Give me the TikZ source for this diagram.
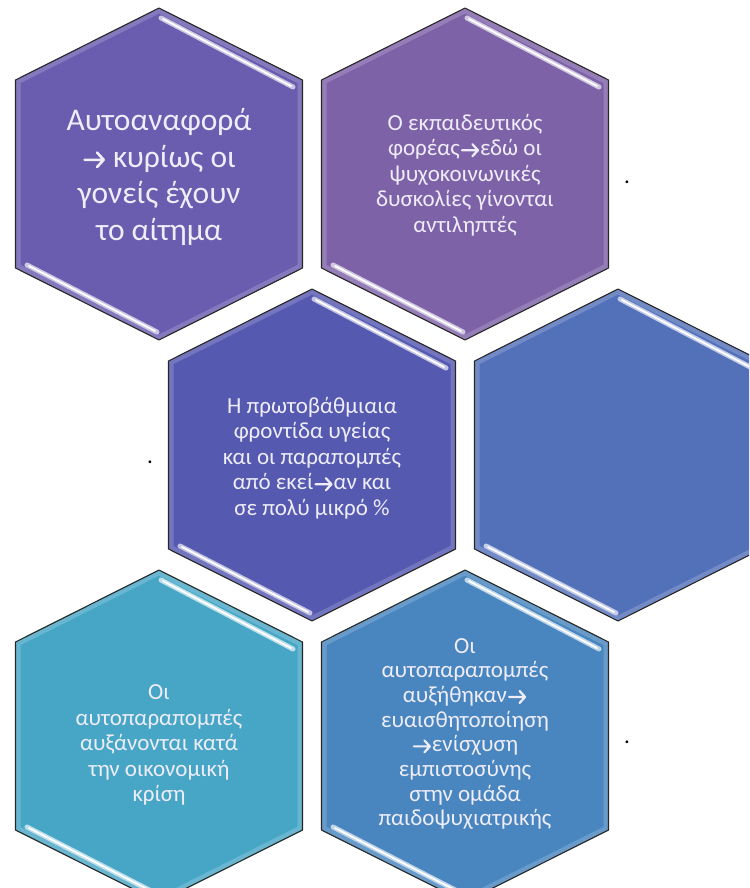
\documentclass[tikz,border=0pt]{standalone}
\usepackage{fontspec}
\setmainfont{Carlito}

\definecolor{hexA}{HTML}{6A5CAE}
\definecolor{hexB}{HTML}{7E62A8}
\definecolor{hexC}{HTML}{5559B0}
\definecolor{hexD}{HTML}{5371B9}
\definecolor{hexE}{HTML}{47A6C6}
\definecolor{hexF}{HTML}{4986BF}
\definecolor{labelInk}{HTML}{EEEDF9}

% arrows inside the labels (line with open head)
\newcommand{\harr}{\kern1pt\tikz[x=1pt, y=1pt, baseline=-5.5pt]
  \draw[labelInk, line width=2.2pt, line cap=round, line join=round]
    (0,0) -- (16,0) (10.5,6) -- (16,0) -- (10.5,-6);\kern1pt}
\newcommand{\bigArr}{\kern1pt\tikz[x=1.2pt, y=1.2pt, baseline=-7.5pt]
  \draw[labelInk, line width=2.6pt, line cap=round, line join=round]
    (0,0) -- (16,0) (10.5,6) -- (16,0) -- (10.5,-6);\kern1pt}
\newcommand{\bigLabel}{\fontsize{31.5}{36.5}\selectfont}
\newcommand{\smallLabel}{\fontsize{23}{25.5}\selectfont}

\tikzset{
  hexagon/.style={insert path={(0,-166) -- (143.5,-94) -- (143.5,94) -- (0,166)
      -- (-143.5,94) -- (-143.5,-94) -- cycle}},
  bevel/.style={line width=5pt, line cap=round},
  cellText/.style={text=labelInk, align=center, inner sep=0pt, font=\smallLabel},
}

% one bevelled cell around a centre
\newcommand{\hexcell}[2]{%
  \begin{scope}[shift={(#1)}]
    \fill[#2] [hexagon];
    \begin{scope}
      \clip [hexagon];
      \draw[white, opacity=.18, line width=10pt] [hexagon];
    \end{scope}
    \draw[black!85, line width=1.1pt, line join=round] [hexagon];
    % highlights on the upper right and lower left edges
    \draw[bevel, #2!35!white] (2,-156) -- (134,-87);
    \draw[bevel, #2!35!white] (-132,91) -- (-2,158);
    \draw[line width=1.8pt, line cap=round, white] (4,-155) -- (132,-88);
    \draw[line width=1.8pt, line cap=round, white] (-130,92) -- (-4,157);
  \end{scope}}

\begin{document}
\begin{tikzpicture}[x=1pt,y=-1pt]

    % --- Canvas ---
    \useasboundingbox (0,0) rectangle (749,888);
    \clip (0,0) rectangle (749,888);

    % --- Centres of the cells ---
    \coordinate (h1) at (159,174);
    \coordinate (h2) at (465,174);
    \coordinate (h3) at (312,455);
    \coordinate (h4) at (618,455);
    \coordinate (h5) at (159,736);
    \coordinate (h6) at (465,736);

    % --- Cells ---
    \hexcell{h1}{hexA}
    \hexcell{h2}{hexB}
    \hexcell{h3}{hexC}
    \hexcell{h4}{hexD}
    \hexcell{h5}{hexE}
    \hexcell{h6}{hexF}

    % --- Labels ---
    \node[cellText, font=\bigLabel, yshift=-3pt] (selfReport) at (h1)
      {Αυτοαναφορά\\\bigArr{} κυρίως οι\\γονείς έχουν\\το αίτημα};
    \node[cellText, yshift=-1pt] (school) at (h2)
      {Ο εκπαιδευτικός\\φορέας\harr{}εδώ οι\\ψυχοκοινωνικές\\δυσκολίες γίνονται\\αντιληπτές};
    \node[cellText, yshift=-3pt] (primaryCare) at (h3)
      {Η πρωτοβάθμιαια\\φροντίδα υγείας\\και οι παραπομπές\\από εκεί\harr{}αν και\\σε πολύ μικρό \%};
    \node[cellText, yshift=-9pt] (crisis) at (h5)
      {Οι\\αυτοπαραπομπές\\αυξάνονται κατά\\την οικονομική\\κρίση};
    \node[cellText, yshift=2pt, font=\fontsize{23}{24.7}\selectfont] (trust) at (h6)
      {Οι\\αυτοπαραπομπές\\αυξήθηκαν\harr\\ευαισθητοποίηση\\\harr{}ενίσχυση\\εμπιστοσύνης\\στην ομάδα\\παιδοψυχιατρικής};

    % --- Stray dots ---
    \node[font=\smallLabel, anchor=base] (dotA) at (627,183) {.};
    \node[font=\smallLabel, anchor=base] (dotB) at (150,463) {.};
    \node[font=\smallLabel, anchor=base] (dotC) at (627,743) {.};

\end{tikzpicture}
\end{document}
